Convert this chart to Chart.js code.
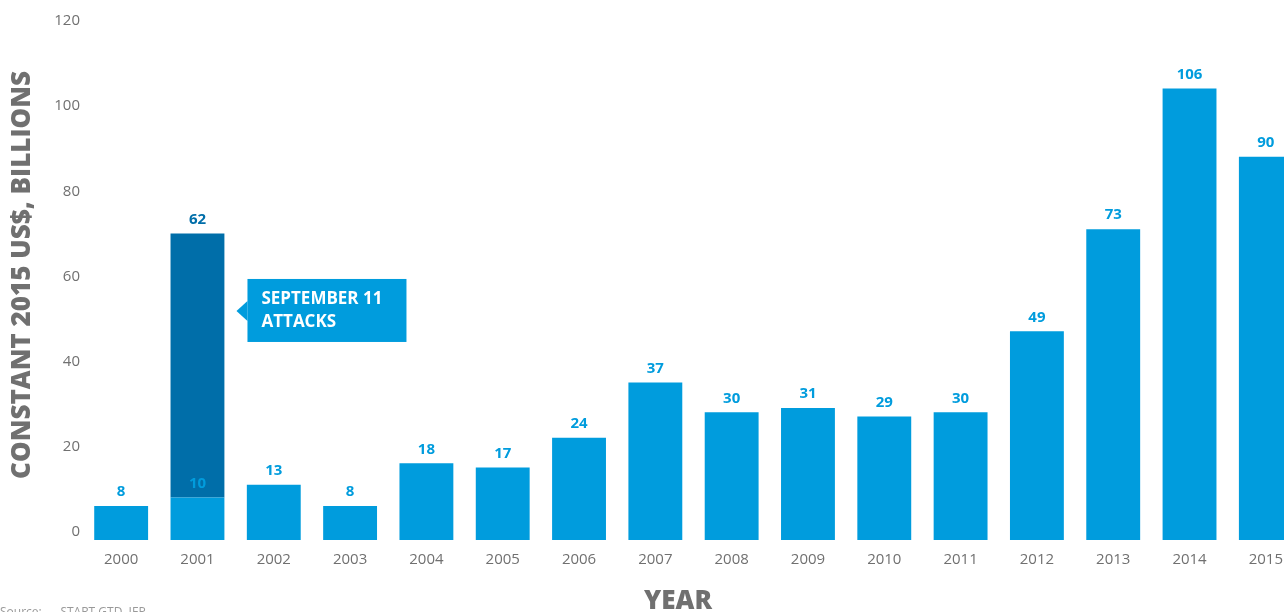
<!DOCTYPE html>
<html>
<head>
<meta charset="utf-8">
<script src="https://cdn.jsdelivr.net/npm/chart.js@4"></script>
<style>
  html, body { margin: 0; padding: 0; overflow: hidden; background: #fff; }
  #wrap { width: 1308px; height: 640px; }
</style>
</head>
<body>
<div id="wrap"><canvas id="c"></canvas></div>
<script>
// Economic impact chart, 2000-2015. 2001 split into base + 9/11 spike.
const years  = ["2000","2001","2002","2003","2004","2005","2006","2007",
                "2008","2009","2010","2011","2012","2013","2014","2015"];
const base   = [8, 10, 13, 8, 18, 17, 24, 37, 30, 31, 29, 30, 49, 73, 106, 90];
const spike  = [null, 62, null, null, null, null, null, null,
                null, null, null, null, null, null, null, null];
const yTicks = [0, 20, 40, 60, 80, 100, 120];

const LIGHT = "#009cdd";
const DARK  = "#006ea9";
const GREY  = "#707070";
const FONT  = "'Open Sans', sans-serif";

// value labels, titles, callout, source line
const extras = {
  id: "extras",
  afterDatasetsDraw(chart) {
    const { ctx } = chart;
    const x = chart.scales.x, y = chart.scales.y;
    ctx.save();
    ctx.textAlign = "center";
    ctx.textBaseline = "middle";
    ctx.font = `bold 15px ${FONT}`;

    base.forEach((v, i) => {
      const px = x.getPixelForValue(i);
      const py = y.getPixelForValue(v);
      ctx.fillStyle = LIGHT;
      ctx.fillText(String(v), px, py - 14);
      if (spike[i] != null) {
        ctx.fillStyle = DARK;
        ctx.fillText(String(spike[i]), px, y.getPixelForValue(v + spike[i]) - 14);
      }
    });

    // callout box next to 2001
    const bx = x.getPixelForValue(1) + 50;
    const by = y.getPixelForValue(61.3);
    const bw = 159, bh = 63;
    ctx.fillStyle = LIGHT;
    ctx.fillRect(bx, by, bw, bh);
    ctx.beginPath();
    ctx.moveTo(bx, by + 22);
    ctx.lineTo(bx - 11, by + 32);
    ctx.lineTo(bx, by + 42);
    ctx.closePath();
    ctx.fill();
    ctx.fillStyle = "#fff";
    ctx.textAlign = "left";
    ctx.font = `bold 17px ${FONT}`;
    ctx.fillText("SEPTEMBER 11", bx + 14, by + 20);
    ctx.fillText("ATTACKS", bx + 14, by + 43);

    // axis titles
    ctx.fillStyle = GREY;
    ctx.textAlign = "center";
    ctx.font = `800 26px ${FONT}`;
    ctx.fillText("YEAR", 678, 602);
    ctx.save();
    ctx.translate(23, 275);
    ctx.rotate(-Math.PI / 2);
    ctx.fillText("CONSTANT 2015 US$, BILLIONS", 0, 0);
    ctx.restore();

    // source line (mostly below the window)
    ctx.fillStyle = "#999";
    ctx.textAlign = "left";
    ctx.textBaseline = "top";
    ctx.font = `12px ${FONT}`;
    ctx.fillText("Source:      START GTD, IEP", 0, 607);
    ctx.restore();
  },
};

new Chart(document.getElementById("c"), {
  type: "bar",
  data: {
    labels: years,
    datasets: [
      { data: base,  backgroundColor: LIGHT, stack: "s" },
      { data: spike, backgroundColor: DARK,  stack: "s" },
    ],
  },
  options: {
    responsive: true,
    maintainAspectRatio: false,
    animation: false,
    events: [],
    layout: { padding: { top: 29, left: 0, right: 4, bottom: 0 } },
    datasets: { bar: { barPercentage: 0.706, categoryPercentage: 1 } },
    plugins: { legend: { display: false }, tooltip: { enabled: false } },
    scales: {
      x: {
        stacked: true,
        grid: { display: false, drawTicks: false },
        border: { display: false },
        ticks: { color: GREY, padding: 11, font: { family: FONT, size: 15 } },
        afterFit: (s) => { s.height = 100; },
      },
      y: {
        stacked: true,
        min: 0, max: 120,
        grid: { display: false, drawTicks: false },
        border: { display: false },
        afterBuildTicks: (s) => { s.ticks = yTicks.map((v) => ({ value: v })); },
        ticks: { color: GREY, padding: 3, labelOffset: -8, font: { family: FONT, size: 15 } },
        afterFit: (s) => { s.width = 83; },
      },
    },
  },
  plugins: [extras],
});
</script>
</body>
</html>
